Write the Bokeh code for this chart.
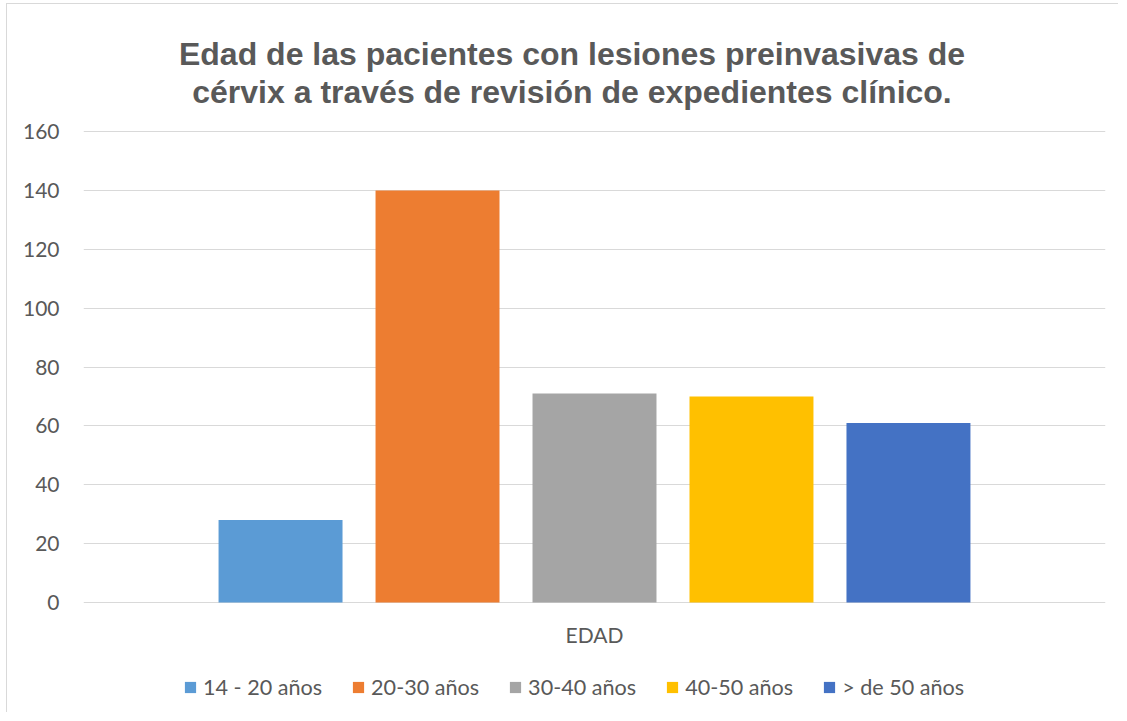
from bokeh.plotting import figure
from bokeh.models import ColumnDataSource, FactorRange, Label, Legend, LegendItem
from bokeh.transform import dodge
from bokeh.embed import file_html
from bokeh.resources import INLINE

# ---- data ----
categories = ["14 - 20 años", "20-30 años", "30-40 años", "40-50 años", "> de 50 años"]
values = [28, 140, 71, 70, 61]
colors = ["#5B9BD5", "#ED7D31", "#A5A5A5", "#FFC000", "#4472C4"]
y_ticks = [0, 20, 40, 60, 80, 100, 120, 140, 160]
title_lines = ["Edad de las pacientes con lesiones preinvasivas de",
               "cérvix a través de revisión de expedientes clínico."]
x_group = ["EDAD"]

FONT = "Lato"
GRAY = "#595959"

# ---- layout (page pixels) ----
FIG_TOP = 4          # figure content top on the page (after margin + border)
FIG_H = 709
Y_MAX_PX, Y0_PX = 131, 602   # page y of value 160 and of value 0
PX_PER_UNIT = (Y0_PX - Y_MAX_PX) / max(y_ticks)


def to_y(page_px):
    return (Y0_PX - page_px) / PX_PER_UNIT


p = figure(width=1112, height=FIG_H, output_backend="svg", toolbar_location=None,
           title=None,
           x_range=FactorRange(factors=x_group),
           y_range=(to_y(FIG_TOP + FIG_H), to_y(FIG_TOP)),
           min_border_left=76, min_border_right=14, min_border_top=0, min_border_bottom=0,
           styles={"margin-left": "6px", "margin-top": "3px",
                   "border-left": "1px solid #d9d9d9", "border-top": "1px solid #d9d9d9"})

n = len(categories)
step = 0.1536
bar_w = 0.1213
items = []
for i, (c, v, col) in enumerate(zip(categories, values, colors)):
    src = ColumnDataSource(dict(x=x_group, top=[v]))
    off = (i - (n - 1) / 2) * step
    r = p.vbar(x=dodge("x", off, range=p.x_range), top="top", bottom=0, width=bar_w,
               fill_color=col, line_color=None, source=src)
    items.append(LegendItem(label=c, renderers=[r]))

# title (two centered lines)
for line, base_px in zip(title_lines, [53.5, 91.7]):
    p.add_layout(Label(x=0.478, y=to_y(base_px), text=line, text_align="center",
                       text_baseline="alphabetic", text_font="Liberation Sans",
                       text_font_style="bold", text_font_size="32px", text_color=GRAY))

# x group label
p.add_layout(Label(x=0.5, y=to_y(634), text=x_group[0], text_align="center",
                   text_baseline="middle", text_font=FONT, text_font_size="21px",
                   text_color=GRAY))

# y axis
p.yaxis.ticker = y_ticks
p.yaxis.axis_line_color = None
p.yaxis.major_tick_line_color = None
p.yaxis.minor_tick_line_color = None
p.yaxis.major_label_text_font = FONT
p.yaxis.major_label_text_font_size = "21px"
p.yaxis.major_label_text_color = GRAY
p.yaxis.major_label_standoff = 18

p.xaxis.visible = False
p.xgrid.grid_line_color = None
p.ygrid.grid_line_color = "#d9d9d9"
p.ygrid.grid_line_width = 1
p.outline_line_color = None

legend = Legend(items=items, orientation="horizontal", location=(100, 13),
                label_text_font=FONT, label_text_font_size="21.6px", label_text_color=GRAY,
                glyph_width=14, glyph_height=14, label_standoff=6, spacing=29,
                border_line_color=None, background_fill_alpha=0, padding=0, margin=0)
p.add_layout(legend, "center")

open("out.html", "w").write(file_html(p, INLINE))
